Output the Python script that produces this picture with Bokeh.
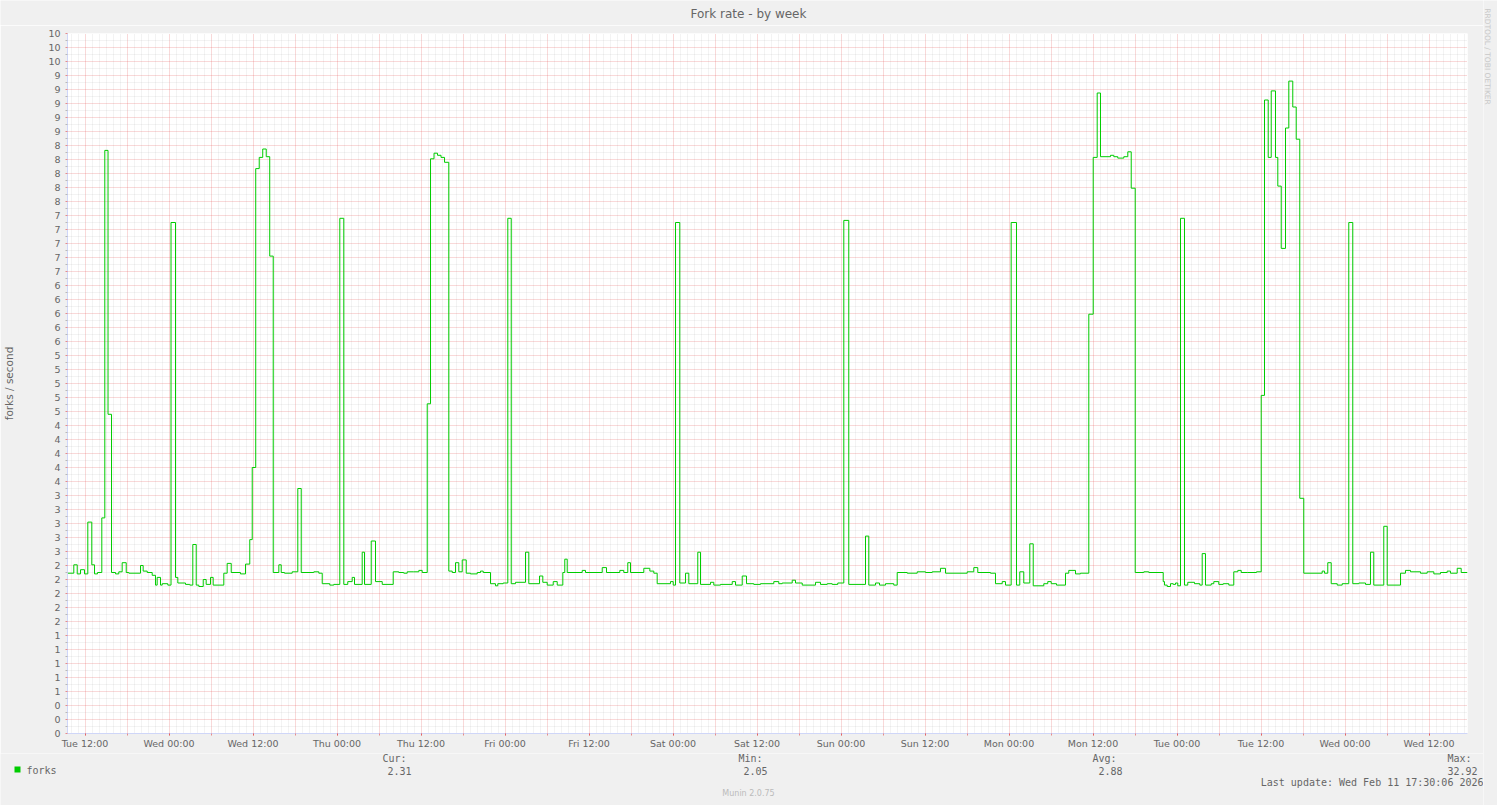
import math
from datetime import datetime, timedelta

from bokeh.plotting import figure
from bokeh.layouts import row, column
from bokeh.models import (FixedTicker, DatetimeTickFormatter, PrintfTickFormatter,
                          Label, Range1d)
from bokeh.embed import file_html
from bokeh.resources import INLINE

# ---------------- data ----------------
START = datetime(2026, 2, 3, 9, 30)
END = datetime(2026, 2, 11, 17, 30)

# hours after START at which the 30-min averaged rate changes
hours = [
    0.00, 0.90, 1.39, 1.86, 2.43, 2.90, 3.47, 3.86, 4.29, 4.90,
    5.33, 5.79, 6.29, 6.86, 7.33, 7.81, 8.39, 8.76, 10.43, 10.81,
    11.39, 12.10, 12.57, 12.81, 13.29, 13.53, 14.33, 14.79, 15.43, 15.76,
    16.86, 17.47, 17.90, 18.39, 18.76, 19.39, 19.81, 20.43, 20.81, 22.33,
    22.81, 23.39, 24.71, 25.43, 26.04, 26.39, 26.89, 27.39, 27.89, 28.39,
    28.89, 29.39, 30.19, 30.53, 31.00, 32.10, 32.90, 33.39, 35.19, 35.90,
    36.39, 37.47, 38.04, 38.90, 39.47, 40.04, 40.67, 41.00, 42.10, 42.43,
    43.39, 44.00, 44.96, 46.53, 47.33, 48.04, 48.53, 49.47, 50.19, 50.67,
    51.39, 51.86, 52.36, 52.86, 53.36, 53.86, 54.47, 54.96, 55.43, 55.90,
    56.39, 56.96, 57.57, 58.53, 59.00, 59.39, 60.43, 61.14, 61.47, 62.24,
    62.90, 63.39, 64.00, 65.43, 65.90, 67.43, 67.90, 68.53, 69.39, 69.96,
    70.76, 71.04, 71.39, 73.53, 74.00, 76.39, 77.00, 78.90, 79.47, 80.04,
    80.43, 82.33, 83.19, 83.76, 84.24, 86.14, 86.53, 86.86, 87.47, 88.29,
    88.76, 90.04, 90.43, 91.86, 92.33, 93.29, 94.96, 95.43, 96.39, 97.00,
    98.04, 99.00, 100.90, 101.61, 102.10, 103.53, 104.00, 104.96, 106.86, 107.57,
    108.53, 109.24, 110.04, 110.90, 111.61, 114.00, 114.47, 115.43, 116.00, 116.86,
    118.04, 118.53, 119.96, 121.39, 122.57, 123.53, 124.71, 125.43, 128.53, 129.47,
    130.04, 131.86, 132.57, 133.53, 134.00, 134.81, 135.57, 136.04, 136.61, 137.47,
    137.96, 139.47, 140.04, 140.53, 141.29, 142.57, 143.04, 144.00, 144.71, 145.90,
    146.53, 147.10, 147.57, 149.00, 149.47, 150.04, 150.90, 151.47, 151.96, 152.53,
    153.76, 154.47, 156.53, 156.71, 157.10, 157.57, 157.96, 158.29, 158.61, 159.00,
    159.57, 160.04, 161.00, 161.76, 162.10, 162.57, 163.39, 163.76, 164.47, 165.10,
    165.90, 166.61, 167.19, 167.67, 168.53, 169.86, 170.53, 171.00, 171.53, 171.96,
    172.57, 172.90, 173.39, 174.00, 174.47, 175.04, 175.53, 176.04, 176.61, 179.24,
    179.57, 180.04, 180.53, 181.39, 182.10, 183.04, 183.61, 184.47, 185.43, 186.14,
    186.61, 188.04, 188.53, 190.43, 191.14, 191.86, 193.29, 194.24, 195.19, 196.14,
    197.10, 197.57, 198.53, 199.10,
]

# forks / second for each of the intervals above
forks = [
    2.29, 2.41, 2.28, 2.34, 2.28, 3.02, 2.41, 2.28, 2.30, 3.08,
    8.33, 4.56, 2.30, 2.28, 2.31, 2.44, 2.30, 2.29, 2.40, 2.32,
    2.30, 2.26, 2.12, 2.23, 2.12, 2.14, 2.12, 7.30, 2.23, 2.15,
    2.13, 2.12, 2.70, 2.12, 2.10, 2.20, 2.13, 2.23, 2.12, 2.29,
    2.43, 2.30, 2.28, 2.42, 2.77, 3.80, 8.07, 8.23, 8.35, 8.24,
    6.82, 2.30, 2.41, 2.30, 2.29, 2.31, 3.50, 2.30, 2.31, 2.29,
    2.14, 2.12, 2.13, 7.36, 2.13, 2.17, 2.23, 2.13, 2.59, 2.13,
    2.75, 2.17, 2.13, 2.31, 2.30, 2.29, 2.31, 2.31, 2.33, 2.30,
    4.71, 8.21, 8.29, 8.26, 8.23, 8.16, 2.32, 2.30, 2.44, 2.31,
    2.48, 2.29, 2.28, 2.30, 2.32, 2.30, 2.14, 2.11, 2.14, 2.15,
    7.36, 2.14, 2.16, 2.59, 2.14, 2.25, 2.16, 2.12, 2.17, 2.12,
    2.30, 2.49, 2.30, 2.33, 2.30, 2.37, 2.30, 2.33, 2.30, 2.44,
    2.30, 2.36, 2.32, 2.29, 2.14, 2.17, 2.12, 7.30, 2.15, 2.29,
    2.14, 2.59, 2.13, 2.16, 2.12, 2.13, 2.17, 2.12, 2.25, 2.14,
    2.13, 2.14, 2.17, 2.14, 2.15, 2.19, 2.15, 2.12, 2.16, 2.13,
    2.14, 2.13, 2.15, 7.33, 2.13, 2.82, 2.12, 2.15, 2.12, 2.14,
    2.12, 2.30, 2.29, 2.31, 2.30, 2.31, 2.36, 2.29, 2.31, 2.37,
    2.30, 2.29, 2.14, 2.17, 2.12, 7.30, 2.12, 2.31, 2.15, 2.71,
    2.11, 2.14, 2.17, 2.14, 2.12, 2.29, 2.33, 2.28, 2.29, 5.99,
    8.23, 9.15, 8.24, 8.26, 8.24, 8.22, 8.24, 8.31, 7.79, 2.30,
    2.31, 2.30, 2.17, 2.12, 2.10, 2.14, 2.13, 2.15, 2.11, 7.36,
    2.12, 2.16, 2.14, 2.12, 2.57, 2.12, 2.14, 2.17, 2.13, 2.14,
    2.12, 2.31, 2.33, 2.30, 2.30, 2.31, 4.83, 9.05, 8.23, 9.18,
    8.23, 7.82, 6.93, 8.65, 9.32, 8.95, 8.49, 3.36, 2.29, 2.32,
    2.29, 2.44, 2.14, 2.12, 2.14, 7.30, 2.14, 2.15, 2.13, 2.59,
    2.12, 2.96, 2.12, 2.29, 2.33, 2.31, 2.29, 2.31, 2.28, 2.30,
    2.32, 2.29, 2.36, 2.30,
]

stat_names = ["Cur:", "Min:", "Avg:", "Max:"]
stat_values = ["2.31", "2.05", "2.88", "32.92"]
series_name = "forks"
title_text = "Fork rate - by week"
y_label = "forks / second"
last_update = "Last update: Wed Feb 11 17:30:06 2026"
footer = "Munin 2.0.75"
credit = "RRDTOOL / TOBI OETIKER"

y_ticks = [round(0.2 * k, 1) for k in range(51)]
y_minor = [round(0.1 + 0.2 * k, 2) for k in range(50)]

# ---------------- helpers ----------------
EPOCH = datetime(1970, 1, 1)


def ms(dt):
    return (dt - EPOCH).total_seconds() * 1000.0


START_MS = ms(START)
END_MS = ms(END)
HOUR = 3600000.0

label_ticks = [START_MS + (2.5 + 12 * k) * HOUR for k in range(17)]
six_h = [START_MS + (2.5 + 6 * k) * HOUR for k in range(33)]
one_h = [START_MS + (0.5 + k) * HOUR for k in range(200)
         if ((0.5 + k - 2.5) % 6) != 0]

times = [START + timedelta(hours=h) for h in hours] + [END]
vals = forks + [forks[-1]]

GREEN = "#00CC00"
FONT_COL = "#666666"
AXIS_COL = "#CFD6F8"
BG = "#F0F0F0"
MONO = "DejaVu Sans Mono"

# ---------------- layout geometry (page pixels) ----------------
W, H = 1497, 805
COL_W = 1483          # width of the main column
TOP_H = 25            # title strip
MAIN_H = 728          # 8 px top border + 700 frame + 20 px bottom border
BOT_H = H - TOP_H - MAIN_H


def strip(w, h, x0, y0):
    """A blank figure whose data coordinates are page pixels."""
    f = figure(width=w, height=h, output_backend="svg", toolbar_location=None,
               x_range=Range1d(x0, x0 + w), y_range=Range1d(y0 + h, y0),
               min_border=0, x_axis_location=None, y_axis_location=None,
               background_fill_color=BG, border_fill_color=BG,
               outline_line_color=None)
    f.grid.visible = False
    return f


def text(f, s, x, y, size, font="DejaVu Sans", color=FONT_COL,
         align="left", angle=0.0):
    f.add_layout(Label(x=x, y=y, text=s, text_font=font, text_font_size=size,
                       text_color=color, text_align=align,
                       text_baseline="middle", angle=angle))


# ---- title strip ----
top = strip(COL_W, TOP_H, 0, 0)
text(top, title_text, 748, 13, "12px", align="center")

# ---- main chart ----
main = figure(width=COL_W, height=MAIN_H, x_axis_type="datetime",
              output_backend="svg", toolbar_location=None,
              x_range=Range1d(START_MS, END_MS), y_range=Range1d(0, 10),
              min_border_left=67, min_border_right=COL_W - 1467,
              min_border_top=8, min_border_bottom=20,
              background_fill_color="#FFFFFF", border_fill_color=BG,
              outline_line_color=None)

xg = main.xgrid[0]
xg.ticker = FixedTicker(ticks=six_h, minor_ticks=one_h)
yg = main.ygrid[0]
yg.ticker = FixedTicker(ticks=y_ticks, minor_ticks=y_minor)
for g in (xg, yg):
    g.grid_line_color = "#E04848"
    g.grid_line_alpha = 0.42
    g.grid_line_dash = "1 1"
    g.minor_grid_line_color = "#A8A8A8"
    g.minor_grid_line_alpha = 0.28
    g.minor_grid_line_dash = "1 1"

fmt = "%a %H:%M"
main.xaxis.ticker = FixedTicker(ticks=label_ticks, minor_ticks=six_h)
main.xaxis.formatter = DatetimeTickFormatter(
    microseconds=fmt, milliseconds=fmt, seconds=fmt, minsec=fmt, minutes=fmt,
    hourmin=fmt, hours=fmt, days=fmt, months=fmt, years=fmt)
main.yaxis.ticker = FixedTicker(ticks=y_ticks, minor_ticks=y_minor)
main.yaxis.formatter = PrintfTickFormatter(format="%.0f")

for ax in (main.xaxis[0], main.yaxis[0]):
    ax.axis_line_color = AXIS_COL
    ax.major_tick_in = 0
    ax.major_tick_out = 2
    ax.minor_tick_in = 0
    ax.minor_tick_out = 2
    ax.major_tick_line_color = "#E04848"
    ax.major_tick_line_alpha = 0.6
    ax.minor_tick_line_color = "#B8B8B8"
    ax.major_label_text_font = "DejaVu Sans"
    ax.major_label_text_font_size = "9.5px"
    ax.major_label_text_color = FONT_COL
main.xaxis.major_label_standoff = 2
main.xaxis.minor_tick_line_color = "#E04848"
main.xaxis.minor_tick_line_alpha = 0.6
main.yaxis.major_label_standoff = 5
main.yaxis.axis_label = y_label
main.yaxis.axis_label_text_font = "DejaVu Sans"
main.yaxis.axis_label_text_font_size = "10.5px"
main.yaxis.axis_label_text_font_style = "normal"
main.yaxis.axis_label_text_color = FONT_COL
main.yaxis.axis_label_standoff = 30

main.step(x=times, y=vals, mode="after", line_color=GREEN, line_width=1)

# ---- legend strip ----
bot = strip(COL_W, BOT_H, 0, TOP_H + MAIN_H)
bot.quad(left=[14], right=[20], top=[766], bottom=[772],
         fill_color=GREEN, line_color=None)
text(bot, series_name, 26, 770, "10px", font=MONO)
name_x = [382, 738, 1092, 1447]
value_x = [387, 743, 1098, 1447]
for nm, vv, nx, vx in zip(stat_names, stat_values, name_x, value_x):
    text(bot, nm, nx, 758, "10px", font=MONO)
    text(bot, vv, vx, 770, "10px", font=MONO)
text(bot, last_update, 1483, 782, "10px", font=MONO, align="right")
text(bot, footer, 748, 793, "8px", color="#BBBBBB", align="center")

# ---- right strip with the rrdtool credit ----
right = strip(W - COL_W, H, COL_W, 0)
text(right, credit, 1487, 56, "7.5px", color="#C8C8C8", align="center",
     angle=-math.pi / 2)

# main chart wrapped in its own row so that the text strips keep full-width frames
p = row(column(top, row(main), bot), right)

open("out.html", "w").write(file_html(p, INLINE))
